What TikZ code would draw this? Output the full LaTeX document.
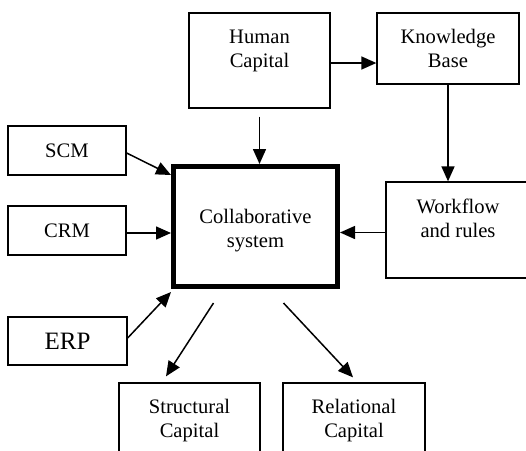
\documentclass[tikz,border=0pt]{standalone}
\usepackage{fontspec}
\setmainfont{Liberation Serif}
\usetikzlibrary{arrows.meta}

\begin{document}
\begin{tikzpicture}[x=1pt, y=-1pt,
  box/.style={draw, line width=1.3pt, align=center, inner sep=0pt,
    font=\fontsize{20.6}{24}\selectfont},
  arr/.style={-{Triangle[length=15pt, width=13pt]}, line width=1.5pt}]
\useasboundingbox (0,0) rectangle (526,450);
\clip (0,0) rectangle (526,450);

% Capital boxes on top
\node[box, minimum width=141pt, minimum height=95pt, text height=38pt, text depth=25pt] (hc) at (259.5,60.5) {Human\\Capital};
\node[box, minimum width=142pt, minimum height=71pt, text height=38pt, text depth=1pt] (kb) at (448,48.5) {Knowledge\\Base};
\node[box, minimum width=144pt, minimum height=96pt, text height=38pt, text depth=24pt] (wf) at (458,230) {Workflow\\and rules};

% Collaborative system
\node[box, line width=5pt, minimum width=164pt, minimum height=120pt, text height=41pt, text depth=0pt] (cs) at (255.5,226.5) {Collaborative\\system};

% Systems on the left
\node[box, minimum width=118pt, minimum height=49pt] (scm) at (67,150.5) {SCM};
\node[box, minimum width=118pt, minimum height=49pt] (crm) at (67,230.5) {CRM};
\node[box, minimum width=119pt, minimum height=48pt, font=\fontsize{25}{28}\selectfont] (erp) at (67.5,341) {ERP};

% Capital boxes at the bottom
\node[box, minimum width=141pt, minimum height=77pt, text height=38pt, text depth=7pt] (sc) at (189.5,421.5) {Structural\\Capital};
\node[box, minimum width=142pt, minimum height=77pt, text height=38pt, text depth=7pt] (rc) at (354,421.5) {Relational\\Capital};

% Arrows
\draw[arr] ([yshift=-2.5pt]hc.east) -- ([yshift=-2.5pt]hc.east -| kb.west);
\draw[arr] ([yshift=-8pt]hc.south) -- (hc.south |- cs.north);
\draw[arr] (kb.south) -- (kb.south |- wf.north);
\draw[arr] ([yshift=-2.5pt]wf.west) -- ([yshift=-2.5pt]wf.west -| cs.east);
\draw[arr] ([yshift=-2.5pt]scm.east) -- ([yshift=-11pt]cs.north west);
\draw[arr] ([yshift=-2.5pt]crm.east) -- ([yshift=-2.5pt]crm.east -| cs.west);
\draw[arr] ([yshift=3pt]erp.east) -- ([yshift=-3pt]cs.south west);
\draw[arr] ([xshift=-42pt,yshift=-14pt]cs.south) -- ([xshift=-23.5pt,yshift=6pt]sc.north);
\draw[arr] ([xshift=28pt,yshift=-14pt]cs.south) -- ([xshift=-1pt,yshift=5pt]rc.north);
\end{tikzpicture}
\end{document}
